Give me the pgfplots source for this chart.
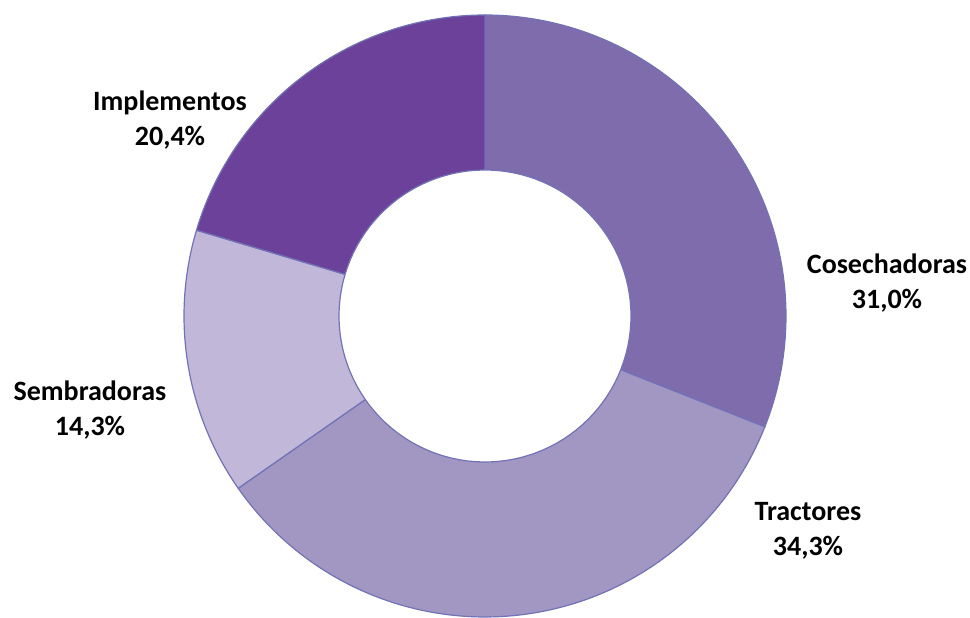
\documentclass[border=0pt]{standalone}
\usepackage{pgfplots}
\usepackage{pgfplotstable}
\usepackage{fontspec}
\setmainfont{Carlito}
\pgfplotsset{compat=1.18}
\definecolor{cose}{HTML}{7F6CAC}
\definecolor{tract}{HTML}{A296C3}
\definecolor{semb}{HTML}{C1B7D8}
\definecolor{impl}{HTML}{6B4199}
\definecolor{edge}{HTML}{7272B6}
\pgfplotstableread{
name value
Cosechadoras 31.0
Tractores 34.3
Sembradoras 14.3
Implementos 20.4
}\datatable
\begin{document}
\begin{tikzpicture}
\pgfplotstablegetelem{0}{value}\of\datatable \let\va\pgfplotsretval
\pgfplotstablegetelem{1}{value}\of\datatable \let\vb\pgfplotsretval
\pgfplotstablegetelem{2}{value}\of\datatable \let\vc\pgfplotsretval
\pgfplotstablegetelem{3}{value}\of\datatable \let\vd\pgfplotsretval
\pgfmathsetmacro\aA{90}
\pgfmathsetmacro\aB{\aA-3.6*\va}
\pgfmathsetmacro\aC{\aB-3.6*\vb}
\pgfmathsetmacro\aD{\aC-3.6*\vc}
\pgfmathsetmacro\aE{\aD-3.6*\vd}
\def\cx{485}\def\cy{301}\def\R{301}\def\r{146}
\begin{axis}[hide axis, scale only axis, x=0.5bp, y=0.5bp,
  xmin=0, xmax=970, ymin=0, ymax=617, clip=false,
  every axis plot/.append style={line width=0.6bp, draw=edge}]
\addplot[draw=none, fill=none, forget plot] coordinates {(0,0) (970,617)};
\addplot[fill=cose, domain=\aB:\aA, samples=90, variable=\t]
  ({\cx+\R*cos(\t)},{\cy+\R*sin(\t)}) -- (axis cs:\cx,\cy) -- cycle;
\addplot[fill=tract, domain=\aC:\aB, samples=90, variable=\t]
  ({\cx+\R*cos(\t)},{\cy+\R*sin(\t)}) -- (axis cs:\cx,\cy) -- cycle;
\addplot[fill=semb, domain=\aD:\aC, samples=60, variable=\t]
  ({\cx+\R*cos(\t)},{\cy+\R*sin(\t)}) -- (axis cs:\cx,\cy) -- cycle;
\addplot[fill=impl, domain=\aE:\aD, samples=60, variable=\t]
  ({\cx+\R*cos(\t)},{\cy+\R*sin(\t)}) -- (axis cs:\cx,\cy) -- cycle;
\addplot[fill=white, domain=0:360, samples=120, variable=\t]
  ({\cx+\r*cos(\t)},{\cy+\r*sin(\t)}) -- cycle;
\begin{scope}[every node/.style={align=center, inner sep=0pt, font=\fontsize{14bp}{17.5bp}\selectfont\bfseries}]
\node at (axis cs:887,334) {Cosechadoras\\31,0\%};
\node at (axis cs:808,86) {Tractores\\34,3\%};
\node at (axis cs:90,207) {Sembradoras\\14,3\%};
\node at (axis cs:170,497) {Implementos\\20,4\%};
\end{scope}
\end{axis}
\end{tikzpicture}
\end{document}
